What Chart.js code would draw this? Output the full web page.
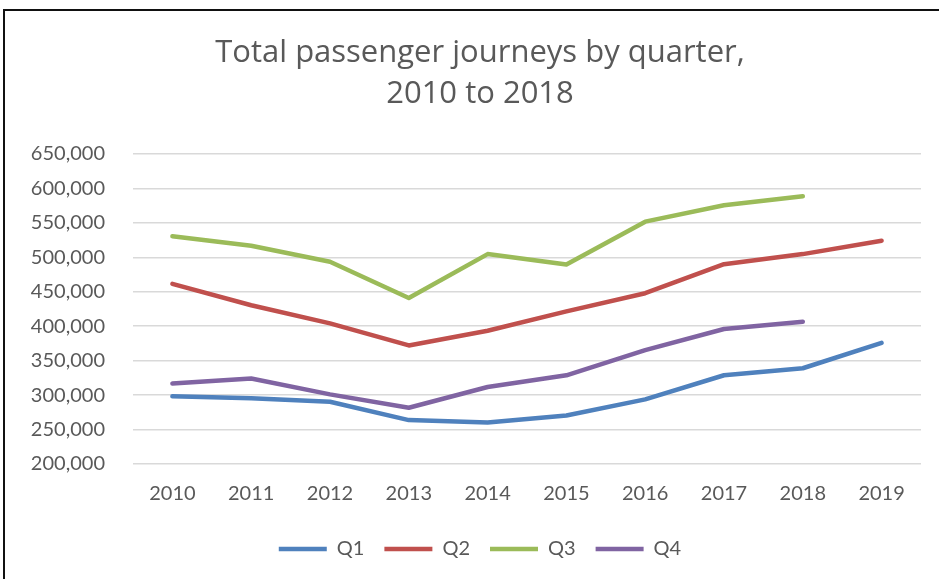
<!DOCTYPE html>
<html>
<head>
<meta charset="utf-8">
<script src="https://cdn.jsdelivr.net/npm/chart.js@4/dist/chart.umd.min.js"></script>
<style>
  html, body { margin: 0; padding: 0; background: #fff; overflow: hidden; width: 939px; height: 579px; }
  #frame { position: absolute; left: 3px; top: 9px; width: 980px; height: 620px; border-left: 2px solid #111; border-top: 2px solid #111; }
  #wrap { position: absolute; left: 5px; top: 11px; width: 950px; height: 568px; }
</style>
</head>
<body>
<div id="frame"></div>
<div id="wrap"><canvas id="c"></canvas></div>
<script>
const titleLines = ["Total passenger journeys by quarter,", "2010 to 2018"];
const years = ["2010", "2011", "2012", "2013", "2014", "2015", "2016", "2017", "2018", "2019"];
const q1 = [298200, 295300, 290400, 263700, 260300, 270500, 293800, 328800, 339000, 375900];
const q2 = [461500, 430400, 404100, 372100, 393400, 421600, 447900, 490100, 504700, 524200];
const q3 = [530500, 516900, 493500, 441000, 504700, 489600, 551800, 575700, 588800, null];
const q4 = [316700, 324000, 301100, 281700, 311800, 328800, 365300, 395900, 406600, null];
const seriesNames = ["Q1", "Q2", "Q3", "Q4"];
const seriesColors = ["#4F81BD", "#C0504D", "#9BBB59", "#8064A2"];
const yMin = 200000, yMax = 650000, yStep = 50000;

const FONT = "Lato, 'Open Sans', sans-serif";
const TITLE_FONT = "'Open Sans', Lato, sans-serif";
const TXT = "#595959";

const allSeries = [q1, q2, q3, q4];
const datasets = allSeries.map((d, i) => ({
  label: seriesNames[i],
  data: d,
  borderColor: seriesColors[i],
  backgroundColor: seriesColors[i],
  borderWidth: 4.5,
  borderCapStyle: 'round',
  borderJoinStyle: 'round',
  pointRadius: 0,
  pointHoverRadius: 0,
  pointStyle: 'line',
  tension: 0,
  spanGaps: false,
  yAxisID: 'y'
}));

new Chart(document.getElementById('c'), {
  type: 'line',
  data: { labels: years, datasets },
  options: {
    responsive: true,
    maintainAspectRatio: false,
    animation: false,
    layout: { padding: { left: 0, right: 0, top: 0, bottom: 10 } },
    plugins: {
      title: {
        display: true,
        text: titleLines,
        color: TXT,
        font: { family: TITLE_FONT, size: 31, weight: 'normal', lineHeight: 41 / 31 },
        padding: { top: 22, bottom: 39 }
      },
      legend: {
        position: 'bottom',
        labels: {
          usePointStyle: true,
          pointStyleWidth: 48,
          padding: 20,
          color: TXT,
          font: { family: FONT, size: 20 }
        }
      },
      tooltip: { enabled: false }
    },
    scales: {
      x: {
        offset: true,
        grid: { display: false, drawTicks: false },
        border: { display: false },
        ticks: { color: TXT, font: { family: FONT, size: 20 }, padding: 18, maxRotation: 0 },
        afterFit: (s) => { s.height = 55; }
      },
      y: {
        min: yMin,
        max: yMax,
        grid: { color: '#D9D9D9', lineWidth: 1.5, drawTicks: false },
        border: { display: false },
        ticks: {
          stepSize: yStep,
          color: TXT,
          padding: 28,
          font: { family: FONT, size: 20 },
          callback: (v) => Number(v).toLocaleString('en-US')
        },
        afterFit: (s) => { s.width = 128; }
      },
      yRight: {
        position: 'right',
        display: true,
        grid: { display: false, drawTicks: false },
        border: { display: false },
        ticks: { display: false },
        afterFit: (s) => { s.width = 34; }
      }
    }
  }
});
</script>
</body>
</html>
